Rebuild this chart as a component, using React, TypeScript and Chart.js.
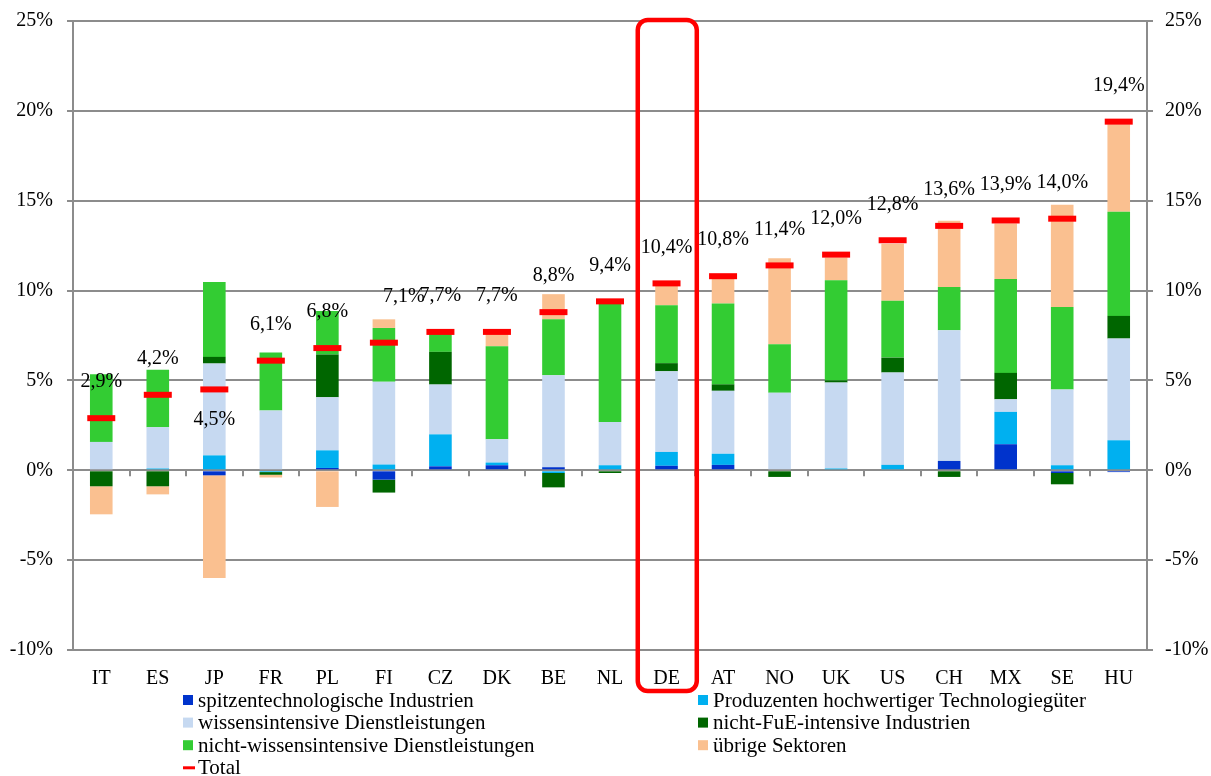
import React, { useEffect, useRef } from 'react';
import { Chart, registerables } from 'chart.js';

Chart.register(...registerables);

const countries = ['IT', 'ES', 'JP', 'FR', 'PL', 'FI', 'CZ', 'DK', 'BE', 'NL', 'DE', 'AT', 'NO', 'UK', 'US', 'CH', 'MX', 'SE', 'HU'];
const spitzen = [0, 0, -0.28, 0, 0.13, -0.52, 0.22, 0.28, 0.17, 0, 0.25, 0.3, 0, 0, 0, 0.52, 1.45, -0.15, -0.1];
const produzenten = [0, 0.1, 0.83, -0.1, 0.98, 0.32, 1.78, 0.15, -0.15, 0.28, 0.77, 0.62, 0, 0.1, 0.3, 0, 1.8, 0.28, 1.67];
const wissens = [1.58, 2.3, 5.11, 3.32, 2.95, 4.6, 2.77, 1.3, 5.12, 2.41, 4.49, 3.5, 4.32, 4.78, 5.14, 7.27, 0.7, 4.21, 5.66];
const nichtFuE = [-0.89, -0.89, 0.37, -0.15, 2.38, -0.72, 1.82, 0, -0.8, -0.15, 0.45, 0.36, -0.37, 0.12, 0.83, -0.37, 1.47, -0.63, 1.26];
const nichtWissens = [3.76, 3.2, 4.17, 3.23, 2.43, 3.0, 1.07, 5.17, 3.11, 6.59, 3.22, 4.5, 2.69, 5.57, 3.17, 2.41, 5.23, 4.6, 5.79];
const uebrige = [-1.56, -0.45, -5.71, -0.15, -2.04, 0.48, 0, 0.75, 1.4, 0.15, 1.1, 1.4, 4.79, 1.27, 3.16, 3.68, 3.08, 5.68, 4.88];
const totals = [2.9, 4.2, 4.5, 6.1, 6.8, 7.1, 7.7, 7.7, 8.8, 9.4, 10.4, 10.8, 11.4, 12.0, 12.8, 13.6, 13.9, 14.0, 19.4];
const yTickValues = [-10, -5, 0, 5, 10, 15, 20, 25];
const highlighted = 'DE';

const FONT = '"Liberation Serif", "Times New Roman", serif';
const GRID = '#8c8c8c';

const seriesLabels = [
  'spitzentechnologische Industrien',
  'Produzenten hochwertiger Technologiegüter',
  'wissensintensive Dienstleistungen',
  'nicht-FuE-intensive Industrien',
  'nicht-wissensintensive Dienstleistungen',
  'übrige Sektoren',
];
const seriesColors = ['#0033CC', '#00B0F0', '#C6D9F1', '#006600', '#33CC33', '#FAC090'];
const seriesData = [spitzen, produzenten, wissens, nichtFuE, nichtWissens, uebrige];

// label nudges (px) for readability, as in the original
const labelNudge: Record<string, [number, number]> = { JP: [0, 66], FI: [20, -10] };

const fmt = (v: number) => v.toFixed(1).replace('.', ',') + '%';

const overlayPlugin = {
  id: 'overlay',
  afterDatasetsDraw(chart: any) {
    const { ctx, chartArea, scales } = chart;
    const x = scales.x;
    const y = scales.y;
    const catW = (chartArea.right - chartArea.left) / countries.length;
    const y0 = y.getPixelForValue(0);
    ctx.save();
    ctx.strokeStyle = GRID;
    ctx.lineWidth = 2;
    for (let i = 0; i <= countries.length; i++) {
      const px = Math.round(chartArea.left + i * catW);
      ctx.beginPath();
      ctx.moveTo(px, y0);
      ctx.lineTo(px, y0 + 6);
      ctx.stroke();
    }
    const meta = chart.getDatasetMeta(6);
    ctx.font = `20px ${FONT}`;
    ctx.fillStyle = '#000';
    ctx.textAlign = 'center';
    ctx.textBaseline = 'middle';
    meta.data.forEach((pt: any, i: number) => {
      const n = labelNudge[countries[i]] || [0, 0];
      ctx.fillText(fmt(totals[i]), pt.x + n[0], pt.y - 36 + n[1]);
    });
    const hi = countries.indexOf(highlighted);
    const cx = x.getPixelForValue(hi);
    const left = cx - catW / 2 - 0.5;
    const right = cx + catW / 2 + 2;
    const top = chartArea.top - 1;
    const bottom = chartArea.bottom + 41;
    const r = 10;
    ctx.strokeStyle = '#FF0000';
    ctx.lineWidth = 4.5;
    ctx.beginPath();
    ctx.moveTo(left + r, top);
    ctx.lineTo(right - r, top);
    ctx.arcTo(right, top, right, top + r, r);
    ctx.lineTo(right, bottom - r);
    ctx.arcTo(right, bottom, right - r, bottom, r);
    ctx.lineTo(left + r, bottom);
    ctx.arcTo(left, bottom, left, bottom - r, r);
    ctx.lineTo(left, top + r);
    ctx.arcTo(left, top, left + r, top, r);
    ctx.closePath();
    ctx.stroke();
    ctx.restore();
  },
  afterDraw(chart: any) {
    const { ctx, chartArea } = chart;
    ctx.save();
    ctx.font = `21px ${FONT}`;
    ctx.textAlign = 'left';
    ctx.textBaseline = 'middle';
    const colX = [chartArea.left + 110, chartArea.left + 625];
    const rowY0 = chartArea.bottom + 50;
    const rowH = 22.6;
    chart.data.datasets.forEach((d: any, i: number) => {
      const col = i % 2;
      const row = Math.floor(i / 2);
      const bx = colX[col];
      const by = rowY0 + row * rowH;
      if (d.type === 'line') {
        ctx.fillStyle = '#FF0000';
        ctx.fillRect(bx, by - 1.5, 12, 3);
      } else {
        ctx.fillStyle = d.backgroundColor;
        ctx.fillRect(bx, by - 5, 10, 10);
      }
      ctx.fillStyle = '#000';
      ctx.fillText(d.label, bx + 15, by + 1);
    });
    ctx.restore();
  },
};

export default function App() {
  const ref = useRef<HTMLCanvasElement>(null);
  useEffect(() => {
    document.body.style.margin = '0';
    const datasets: any[] = seriesData.map((data, i) => ({
      type: 'bar',
      label: seriesLabels[i],
      data,
      backgroundColor: seriesColors[i],
      stack: 'main',
      order: 1,
      barPercentage: 0.4,
      categoryPercentage: 1,
    }));
    datasets.push({
      type: 'line',
      label: 'Total',
      data: totals,
      stack: 'total',
      order: 0,
      showLine: false,
      pointStyle: 'line',
      pointRadius: 14,
      pointHoverRadius: 14,
      pointBorderWidth: 6,
      borderColor: '#FF0000',
      backgroundColor: '#FF0000',
    });
    const fitY = (w: number) => (s: any) => {
      s.width = w;
      s.paddingTop = 0;
      s.paddingBottom = 0;
    };
    const chart = new Chart(ref.current!, {
      data: { labels: countries, datasets },
      plugins: [overlayPlugin],
      options: {
        animation: false,
        responsive: false,
        layout: { padding: { top: 21, left: 0, right: 0, bottom: 0 } },
        plugins: { legend: { display: false }, tooltip: { enabled: false } },
        scales: {
          x: {
            stacked: true,
            grid: { display: false, drawTicks: false },
            border: { display: true, color: GRID, width: 2 },
            ticks: { color: '#000', font: { family: FONT, size: 20 }, padding: 17 },
            afterFit: (s: any) => { s.height = 126; s.paddingLeft = 0; s.paddingRight = 0; },
          },
          y: {
            stacked: true,
            position: 'left',
            min: -10,
            max: 25,
            afterBuildTicks: (s: any) => { s.ticks = yTickValues.map((v) => ({ value: v })); },
            grid: { color: GRID, lineWidth: 2, tickLength: 6 },
            border: { display: true, color: GRID, width: 2 },
            ticks: { color: '#000', font: { family: FONT, size: 20 }, padding: 14, callback: (v: any) => v + '%' },
            afterFit: fitY(73),
          },
          y2: {
            position: 'right',
            min: -10,
            max: 25,
            afterBuildTicks: (s: any) => { s.ticks = yTickValues.map((v) => ({ value: v })); },
            grid: { drawOnChartArea: false, color: GRID, lineWidth: 2, tickLength: 6 },
            border: { display: true, color: GRID, width: 2 },
            ticks: { color: '#000', font: { family: FONT, size: 20 }, padding: 12, callback: (v: any) => v + '%' },
            afterFit: fitY(64),
          },
        },
      } as any,
    });
    return () => chart.destroy();
  }, []);
  return (
    <div style={{ width: 1211, height: 776 }}>
      <canvas ref={ref} width={1211} height={776} />
    </div>
  );
}
